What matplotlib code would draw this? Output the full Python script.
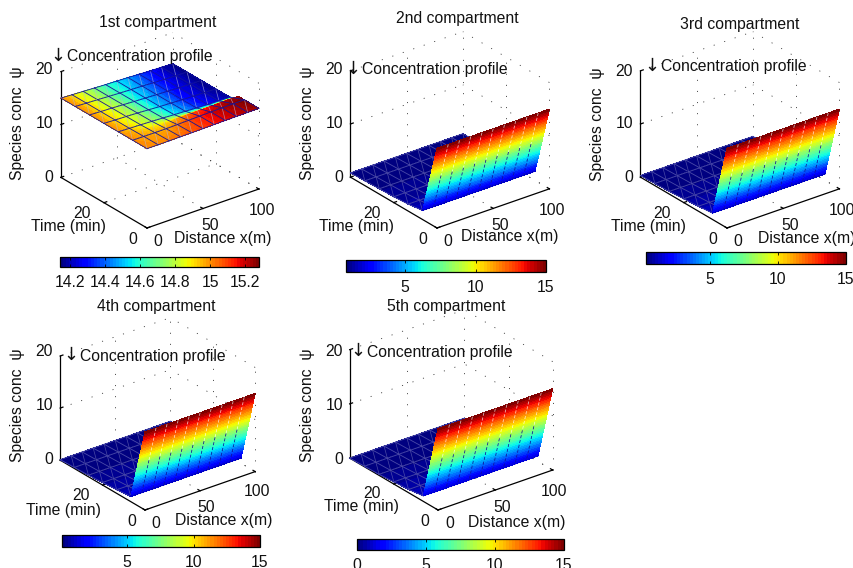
import numpy as np
import matplotlib
matplotlib.use('Agg')
import matplotlib.pyplot as plt
from matplotlib.cm import ScalarMappable
from matplotlib.colors import Normalize
from mpl_toolkits.mplot3d import proj3d

plt.rcParams['font.family'] = ['Liberation Sans', 'DejaVu Sans']

W, H = 854, 568
FS = 11.3

distance = [0, 10, 20, 30, 40, 50, 60, 70, 80, 90, 100]
mesh_time = [0, 6.67, 13.33, 20, 26.67, 33.33, 40]

titles = ['1st compartment', '2nd compartment', '3rd compartment', '4th compartment', '5th compartment']

time_1 = [0, 6.67, 9.5, 11, 13.33, 20, 26.67, 33.33, 40]
conc_1 = [
    [15.00, 15.00, 15.02, 15.04, 15.07, 15.10, 15.14, 15.18, 15.20, 15.22, 15.25],
    [15.00, 14.98, 14.96, 14.97, 15.02, 15.08, 15.14, 15.19, 15.23, 15.26, 15.28],
    [15.00, 14.96, 14.92, 14.90, 14.94, 15.02, 15.09, 15.15, 15.20, 15.24, 15.25],
    [15.00, 14.94, 14.88, 14.84, 14.80, 14.76, 14.70, 14.66, 14.66, 14.78, 14.72],
    [15.00, 14.92, 14.85, 14.77, 14.67, 14.56, 14.46, 14.36, 14.28, 14.22, 14.18],
    [15.00, 14.90, 14.83, 14.74, 14.62, 14.50, 14.42, 14.32, 14.25, 14.20, 14.16],
    [15.00, 14.90, 14.82, 14.72, 14.60, 14.51, 14.42, 14.33, 14.25, 14.20, 14.16],
    [15.00, 14.90, 14.81, 14.70, 14.60, 14.52, 14.44, 14.34, 14.26, 14.20, 14.15],
    [15.00, 14.89, 14.80, 14.70, 14.60, 14.54, 14.46, 14.36, 14.28, 14.20, 14.14],
]
conc_2 = [15, 1.7, 1.3, 1.1, 1.0, 0.9, 0.8]
conc_3 = [15, 1.2, 0.9, 0.7, 0.5, 0.4, 0.3]
conc_4 = [15, 1.0, 0.7, 0.5, 0.3, 0.2, 0.1]
conc_5 = [15, 1.0, 0.6, 0.4, 0.2, 0.1, 0.0]

cbar_ticks = [[14.2, 14.4, 14.6, 14.8, 15, 15.2], [5, 10, 15], [5, 10, 15], [5, 10, 15], [0, 5, 10, 15]]
cbar_lims = [(14.14, 15.28), (0.8, 15), (0.3, 15), (0.1, 15), (0, 15)]

time_ticks = [0, 20]
dist_ticks = [0, 50, 100]
conc_ticks = [0, 10, 20]

# pixel layout of each panel
layout = [
    dict(o=(147, 228), zx=60, xr=258, title=(158, 22), note=(53, 57), yl=18, tl=(68, 226), dl=(223, 238),
         cb=(60, 257, 259, 267), t20=(82, 213), t0=(133, 240), x0=(158, 242), x50=(210, 226), x100=(262, 210), ztop=70),
    dict(o=(437, 228), zx=350, xr=549, title=(457, 19), note=(348, 70), yl=308, tl=(356, 226), dl=(510, 237),
         cb=(346, 260, 546, 272), t20=(372, 213), t0=(423, 240), x0=(448, 242), x50=(500, 226), x100=(552, 210), ztop=70),
    dict(o=(727, 228), zx=640, xr=839, title=(740, 24), note=(647, 67), yl=598, tl=(648, 226), dl=(807, 239),
         cb=(646, 252, 846, 264), t20=(662, 213), t0=(713, 240), x0=(738, 242), x50=(790, 226), x100=(842, 210), ztop=71),
    dict(o=(145, 510), zx=60, xr=255, title=(156, 307), note=(66, 356), yl=18, tl=(63, 511), dl=(224, 520),
         cb=(62, 535, 260, 547), t20=(81, 495), t0=(132, 522), x0=(156, 523), x50=(206, 508), x100=(257, 492), ztop=352),
    dict(o=(438, 510), zx=350, xr=553, title=(446, 307), note=(353, 352), yl=308, tl=(361, 507), dl=(517, 522),
         cb=(357, 539, 564, 550), t20=(372, 494), t0=(425, 522), x0=(450, 523), x50=(502, 508), x100=(554, 492), ztop=352),
]

jet = plt.get_cmap('jet', 64)
DOT = (0, (1.3, 12))
TMAX, XMAX, ZMAX = 40, 100, 20


def put(x, y, s, **kw):
    kw.setdefault('fontsize', FS)
    fig.text(x / W, 1 - y / H, s, color='#111111', **kw)


def to_px(ax, x, y, z):
    u, v, _ = proj3d.proj_transform(x, y, z, ax.get_proj())
    return ax.transData.transform((u, v))


def place(ax, ox, oy, width):
    # put the box corner on (ox, oy) with the wanted pixel width
    S = 300
    ax.set_position([0, 0, S / W, S / H])
    left = to_px(ax, 0, TMAX, 0)[0]
    right = to_px(ax, XMAX, 0, 0)[0]
    S2 = S * width / (right - left)
    corner = to_px(ax, 0, 0, 0) * S2 / S
    ax.set_position([(ox - corner[0]) / W, (H - oy - corner[1]) / H, S2 / W, S2 / H])


def frame(ax):
    dots = dict(color='#333333', lw=0.6, ls=DOT, zorder=1)
    for z in conc_ticks:
        ax.plot([0, XMAX], [TMAX, TMAX], [z, z], **dots)
        ax.plot([XMAX, XMAX], [0, TMAX], [z, z], **dots)
    for x in [50, 100]:
        ax.plot([x, x], [TMAX, TMAX], [0, ZMAX], **dots)
        ax.plot([x, x], [0, TMAX], [0, 0], **dots)
    ax.plot([XMAX, XMAX], [0, 0], [0, ZMAX], **dots)
    ax.plot([XMAX, XMAX], [20, 20], [0, ZMAX], **dots)
    ax.plot([0, XMAX], [20, 20], [0, 0], **dots)
    solid = dict(color='k', lw=0.9, zorder=1.5)
    ax.plot([0, XMAX], [0, 0], [0, 0], **solid)
    ax.plot([0, 0], [0, TMAX], [0, 0], **solid)
    ax.plot([0, 0], [TMAX, TMAX], [0, ZMAX], **solid)
    for z in conc_ticks:
        ax.plot([0, 2.5], [TMAX, TMAX], [z, z], **solid)
    for x in dist_ticks:
        ax.plot([x, x], [0, 1], [0, 0], **solid)
    for t in time_ticks:
        ax.plot([0, 2.5], [t, t], [0, 0], **solid)


def surface(ax, rows_t, rows_z, norm, fine_x, dark, light):
    rows_t = np.array(rows_t)
    rows_z = np.array(rows_z)
    fx = np.linspace(0, XMAX, fine_x)
    across = np.array([np.interp(fx, distance, r) for r in rows_z])
    zo = 2
    # paint cell rows from the back to the front so the wall hides the sheet
    for j in range(len(mesh_time) - 2, -1, -1):
        lo, hi = mesh_time[j], mesh_time[j + 1]
        tf = np.linspace(lo, hi, 40)
        zz = np.array([np.interp(tf, rows_t, across[:, i]) for i in range(fine_x)]).T
        X, T = np.meshgrid(fx, tf)
        mid = (zz[:-1, :-1] + zz[1:, 1:]) / 2
        cols = np.ones(zz.shape + (4,))
        cols[:-1, :-1] = jet(norm(mid))
        ax.plot_surface(X, T, zz, facecolors=cols, rstride=1, cstride=1, shade=False,
                        linewidth=0.25, edgecolor='none', antialiased=False, zorder=zo)
        zlo = [np.interp(lo, rows_t, rows_z[:, i]) for i in range(len(distance))]
        zhi = [np.interp(hi, rows_t, rows_z[:, i]) for i in range(len(distance))]
        wall = zlo[0] - zhi[0] > 5
        for i, x in enumerate(distance):
            if wall:
                # steep face: only broken lines, dark low down and pale higher up
                if 0 < i < len(distance) - 1:
                    tm = (lo + hi) / 2
                    zm = (zlo[i] + zhi[i]) / 2
                    ax.plot([x, x], [tm, hi], [zm, zhi[i]], color='#10109a', lw=0.55, ls=(0, (4, 2.5)), zorder=zo + 0.1)
                    ax.plot([x, x], [lo, tm], [zlo[i], zm], color='white', lw=0.55, alpha=0.75, ls=(0, (4, 2.5)), zorder=zo + 0.1)
                continue
            ax.plot([x, x], [lo, hi], [zlo[i], zhi[i]], color=dark, lw=0.6, zorder=zo + 0.1)
            if i < len(distance) - 1:
                ax.plot([x, distance[i + 1]], [lo, hi], [zlo[i], zhi[i + 1]], color=light, lw=0.5,
                        alpha=0.7, zorder=zo + 0.1)
                ax.plot([x, distance[i + 1]], [hi, hi], [zhi[i], zhi[i + 1]], color=dark, lw=0.6, zorder=zo + 0.1)
                ax.plot([x, distance[i + 1]], [lo, lo], [zlo[i], zlo[i + 1]], color=dark, lw=0.6, zorder=zo + 0.1)
        zo += 1


fig = plt.figure(figsize=(W / 100, H / 100), dpi=100)
all_conc = [None, conc_2, conc_3, conc_4, conc_5]

for k, p in enumerate(layout):
    ax = fig.add_axes([0, 0, 0.3, 0.3], projection='3d', proj_type='ortho', computed_zorder=False)
    ax.set_facecolor('none')
    ax.set_axis_off()
    ax.set_xlim(0, XMAX, view_margin=0)
    ax.set_ylim(0, TMAX, view_margin=0)
    ax.set_zlim(0, ZMAX, view_margin=0)
    ax.set_box_aspect((1, 1, 0.84))
    ax.view_init(elev=26.9, azim=-127.6)
    place(ax, p['o'][0], p['o'][1], p['xr'] - p['zx'])

    norm = Normalize(*cbar_lims[k])
    frame(ax)
    if k == 0:
        surface(ax, time_1, conc_1, norm, 41, '#14149a', '#b4b4d8')
    else:
        rows = np.tile(np.array(all_conc[k])[:, None], (1, len(distance)))
        surface(ax, mesh_time, rows, norm, 11, '#4a4aa8', '#6a6ab4')

    put(*p['title'], titles[k], ha='center', va='center')
    put(p['note'][0] + 5, p['note'][1] - 1, '\u2193', ha='center', va='center', family='DejaVu Sans', fontsize=13)
    put(p['note'][0] + 14, p['note'][1], 'Concentration profile', ha='left', va='center')
    put(p['yl'], p['ztop'] + 53, 'Species conc  \u03c8', rotation=90, ha='center', va='center')
    put(*p['tl'], 'Time (min)', ha='center', va='center')
    put(*p['dl'], 'Distance x(m)', ha='center', va='center')
    put(*p['t20'], '20', ha='center', va='center')
    put(*p['t0'], '0', ha='center', va='center')
    put(*p['x0'], '0', ha='center', va='center')
    put(*p['x50'], '50', ha='center', va='center')
    put(*p['x100'], '100', ha='center', va='center')
    put(p['zx'] - 7, p['ztop'] + 107, '0', ha='right', va='center')
    put(p['zx'] - 7, p['ztop'] + 53, '10', ha='right', va='center')
    put(p['zx'] - 7, p['ztop'], '20', ha='right', va='center')

    x0, y0, x1, y1 = p['cb']
    cax = fig.add_axes([x0 / W, 1 - y1 / H, (x1 - x0) / W, (y1 - y0) / H])
    cb = fig.colorbar(ScalarMappable(norm=norm, cmap=jet), cax=cax, orientation='horizontal')
    cb.set_ticks(cbar_ticks[k])
    cb.set_ticklabels(['%g' % v for v in cbar_ticks[k]])
    cax.tick_params(direction='in', top=True, length=2, width=0.6, labelsize=FS, pad=6, labelcolor='#111111')
    cb.outline.set_linewidth(0.9)

fig.savefig('out.png', dpi=100)
